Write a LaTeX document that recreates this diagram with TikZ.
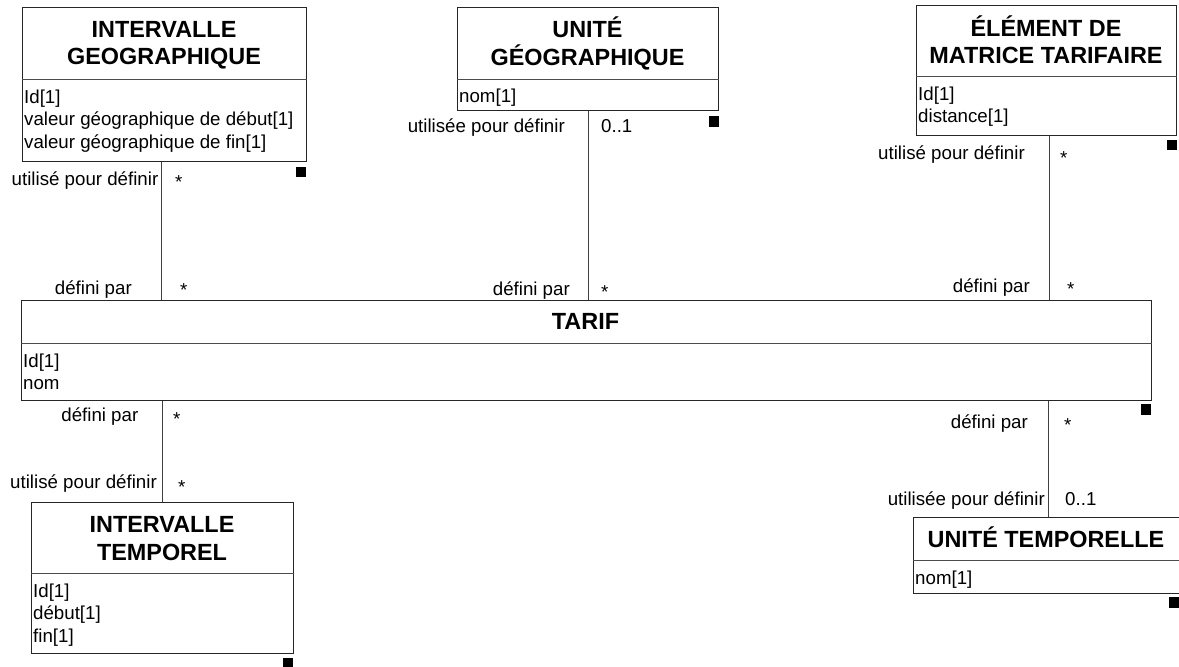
\documentclass[tikz,border=0pt]{standalone}
\usepackage{fontspec}
\setmainfont{Liberation Sans}
\newcommand\attrfont{\fontsize{18.7}{22}\selectfont}
\newcommand\ttlfont{\fontsize{23.4}{27}\selectfont\bfseries}
\begin{document}
\begin{tikzpicture}[x=1pt,y=-1pt,
  classbox/.style={draw=black!85, line width=0.9pt, anchor=north west, inner sep=0pt},
  sepline/.style={draw=black!70, line width=0.9pt},
  assoc/.style={draw=black!75, line width=0.9pt},
  ttl/.style={font=\ttlfont, anchor=base, inner sep=0pt},
  attr/.style={font=\attrfont, anchor=base west, inner sep=0pt},
  role/.style={font=\attrfont, anchor=base east, inner sep=0pt},
  mult/.style={font=\attrfont, anchor=base west, inner sep=0pt},
  handle/.style={fill=black}]
\clip (0,0) rectangle (1179,667);
\fill[white] (0,0) rectangle (1179,667);

% ---------- classes ----------
% INTERVALLE GEOGRAPHIQUE
\node[classbox, minimum width=284pt, minimum height=154pt] (ig) at (22,7) {};
\node[ttl] (igt1) at (164,37) {INTERVALLE};
\node[ttl] (igt2) at (164,64) {GEOGRAPHIQUE};
\draw[sepline] (ig.west |- 0,79) -- (ig.east |- 0,79);
\node[attr] (iga1) at (24,103) {Id[1]};
\node[attr] (iga2) at (24,125.5) {valeur géographique de début[1]};
\node[attr] (iga3) at (24,148) {valeur géographique de fin[1]};
\fill[handle] (296,167) rectangle (306,177);

% UNITE GEOGRAPHIQUE
\node[classbox, minimum width=261pt, minimum height=103pt] (ug) at (457,7) {};
\node[ttl] (ugt1) at (587.5,37) {UNITÉ};
\node[ttl] (ugt2) at (587.5,65) {GÉOGRAPHIQUE};
\draw[sepline] (ug.west |- 0,79) -- (ug.east |- 0,79);
\node[attr] (uga1) at (459,102) {nom[1]};
\fill[handle] (709,116) rectangle (719,127);

% ELEMENT DE MATRICE TARIFAIRE
\node[classbox, minimum width=260pt, minimum height=130pt] (em) at (916,5) {};
\node[ttl] (emt1) at (1046,36) {ÉLÉMENT DE};
\node[ttl] (emt2) at (1046,63) {MATRICE TARIFAIRE};
\draw[sepline] (em.west |- 0,76) -- (em.east |- 0,76);
\node[attr] (ema1) at (918,100) {Id[1]};
\node[attr] (ema2) at (918,122) {distance[1]};
\fill[handle] (1167,140) rectangle (1177,150);

% TARIF
\node[classbox, minimum width=1130pt, minimum height=100pt] (tarif) at (21,300) {};
\node[ttl] (tat) at (585.5,329) {TARIF};
\draw[sepline] (tarif.west |- 0,343) -- (tarif.east |- 0,343);
\node[attr] (taa1) at (23,367) {Id[1]};
\node[attr] (taa2) at (23,389) {nom};
\fill[handle] (1141,404) rectangle (1151,415);

% INTERVALLE TEMPOREL
\node[classbox, minimum width=262pt, minimum height=151pt] (it) at (31,502) {};
\node[ttl] (itt1) at (162,532) {INTERVALLE};
\node[ttl] (itt2) at (162,560) {TEMPOREL};
\draw[sepline] (it.west |- 0,573) -- (it.east |- 0,573);
\node[attr] (ita1) at (33,597) {Id[1]};
\node[attr] (ita2) at (33,619.5) {début[1]};
\node[attr] (ita3) at (33,642) {fin[1]};
\fill[handle] (283,658) rectangle (293,668);

% UNITE TEMPORELLE
\node[classbox, minimum width=266pt, minimum height=76pt] (ut) at (913,517) {};
\node[ttl] (utt) at (1046,547) {UNITÉ TEMPORELLE};
\draw[sepline] (ut.west |- 0,560) -- (ut.east |- 0,560);
\node[attr] (uta1) at (915,584) {nom[1]};
\fill[handle] (1169,597) rectangle (1179,608);

% ---------- associations ----------
\draw[assoc] (ig.south -| 161,0) -- (tarif.north -| 161,0);
\node[role] at (158.5,185) {utilisé pour définir};
\node[mult] at (175,188) {*};
\node[role] at (132,294) {défini par};
\node[mult] at (180,296) {*};

\draw[assoc] (ug.south -| 588,0) -- (tarif.north -| 588,0);
\node[role] at (565,132) {utilisée pour définir};
\node[mult] at (601,132) {0..1};
\node[role] at (570,295) {défini par};
\node[mult] at (601,298) {*};

\draw[assoc] (em.south -| 1049,0) -- (tarif.north -| 1049,0);
\node[role] at (1025,159) {utilisé pour définir};
\node[mult] at (1060,164) {*};
\node[role] at (1030,292) {défini par};
\node[mult] at (1067,295) {*};

\draw[assoc] (tarif.south -| 162,0) -- (it.north -| 162,0);
\node[role] at (138.5,421.5) {défini par};
\node[mult] at (173,425) {*};
\node[role] at (157,488) {utilisé pour définir};
\node[mult] at (178,493) {*};

\draw[assoc] (tarif.south -| 1048,0) -- (ut.north -| 1048,0);
\node[role] at (1028,428) {défini par};
\node[mult] at (1064,431) {*};
\node[role] at (1045,505) {utilisée pour définir};
\node[mult] at (1065,505) {0..1};
\end{tikzpicture}
\end{document}
